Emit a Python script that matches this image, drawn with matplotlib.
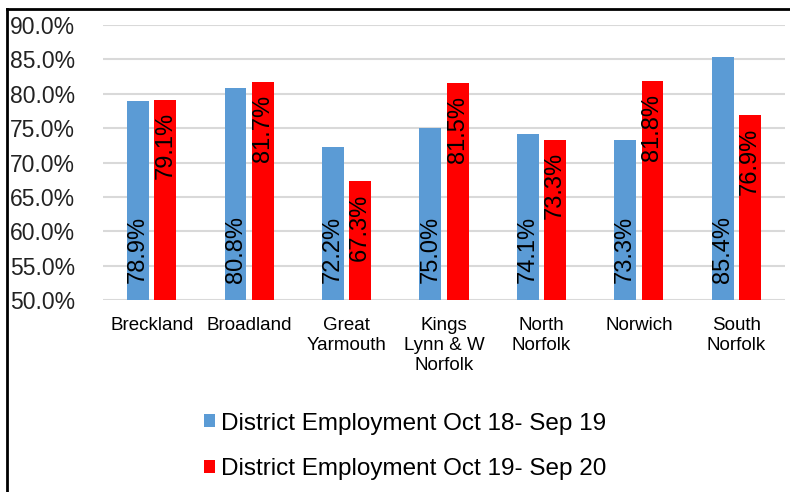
import matplotlib
matplotlib.use("Agg")
import matplotlib.pyplot as plt
import numpy as np
from matplotlib.lines import Line2D

plt.rcParams['font.family'] = ['Liberation Sans', 'DejaVu Sans']

districts = ['Breckland', 'Broadland', 'Great\nYarmouth', 'Kings\nLynn & W\nNorfolk',
             'North\nNorfolk', 'Norwich', 'South\nNorfolk']
emp_1819 = [78.9, 80.8, 72.2, 75.0, 74.1, 73.3, 85.4]
emp_1920 = [79.1, 81.7, 67.3, 81.5, 73.3, 81.8, 76.9]
series_names = ['District Employment Oct 18- Sep 19', 'District Employment Oct 19- Sep 20']
blue = '#5b9bd5'
red = '#ff0000'

fig = plt.figure(figsize=(7.9, 4.92), dpi=100)
ax = fig.add_axes([103/790, 1 - 300/492, 682/790, 275/492])

x = np.arange(len(districts))
w = 0.225
ax.bar(x - 0.14, np.array(emp_1819) - 50, w, bottom=50, color=blue, label=series_names[0])
ax.bar(x + 0.14, np.array(emp_1920) - 50, w, bottom=50, color=red, label=series_names[1])

for xi, v in zip(x, emp_1819):
    ax.text(xi - 0.14, 52.5, f'{v:.1f}%', rotation=90, ha='center', va='bottom',
            fontsize=17, color='black')
for xi, v in zip(x, emp_1920):
    ax.text(xi + 0.14, v - 1.8, f'{v:.1f}%', rotation=90, ha='center', va='top',
            fontsize=17, color='black')

ax.set_ylim(50, 90)
ax.set_xlim(-0.5, len(districts) - 0.5)
ax.set_yticks(np.arange(50, 91, 5))
ax.set_yticklabels([f'{t:.1f}%' for t in np.arange(50, 91, 5)], fontsize=16.5, color='#222222')
ax.set_xticks(x)
ax.set_xticklabels(districts, fontsize=13.5, va='top', linespacing=1.25)
ax.tick_params(axis='both', length=0)
ax.tick_params(axis='y', pad=20)
ax.tick_params(axis='x', pad=12)
ax.yaxis.grid(True, color='#d9d9d9', linewidth=1.5)
ax.set_axisbelow(True)
for s in ax.spines.values():
    s.set_visible(False)

ax.legend(loc='upper center', bbox_to_anchor=(0.5 - 0.057, -0.33), frameon=False,
          fontsize=17.5, handlelength=0.45, handleheight=0.45, handletextpad=0.25,
          labelspacing=0.95, ncol=1)

# outer frame (left and top)
fig.add_artist(Line2D([7/790, 7/790], [0, 1 - 9/492], color='black', lw=2, transform=fig.transFigure))
fig.add_artist(Line2D([7/790, 1], [1 - 9/492, 1 - 9/492], color='black', lw=2, transform=fig.transFigure))

fig.savefig('out.png', dpi=100)
